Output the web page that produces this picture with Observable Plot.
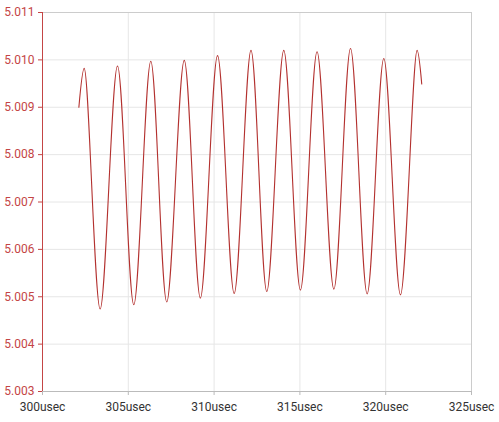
<!DOCTYPE html>
<html>
<head>
<meta charset="utf-8">
<script src="https://cdn.jsdelivr.net/npm/d3@7"></script>
<script src="https://cdn.jsdelivr.net/npm/@observablehq/plot@0.6"></script>
<style>
  html, body { margin: 0; padding: 0; background: #fff; }
  #chart { width: 499px; height: 422px; }
  svg { font-family: Roboto, "Noto Sans", sans-serif; }
</style>
</head>
<body>
<div id="chart"></div>
<script>
// Time (usec) of each read point: start, then alternating peaks and troughs, then end
const timeUsec = [302.12, 302.43, 303.36, 304.37, 305.32, 306.31, 307.24, 308.26, 309.20, 310.20, 311.17,
                  312.15, 313.07, 314.06, 315.03, 316.00, 316.98, 317.95, 318.92, 319.89, 320.86, 321.83, 322.10];
const voltage = [5.00900, 5.00982, 5.00474, 5.00987, 5.00483, 5.00997, 5.00489, 5.00999, 5.00497, 5.01009, 5.00507,
                 5.01020, 5.00511, 5.01020, 5.00514, 5.01017, 5.00516, 5.01024, 5.00506, 5.01003, 5.00504, 5.01020, 5.00949];
const xTicks = [300, 305, 310, 315, 320, 325];
const yTicks = [5.003, 5.004, 5.005, 5.006, 5.007, 5.008, 5.009, 5.010, 5.011];

const data = timeUsec.map((t, i) => ({t, v: voltage[i]}));

const chart = Plot.plot({
  width: 499,
  height: 422,
  marginLeft: 42,
  marginRight: 28,
  marginTop: 12,
  marginBottom: 31,
  style: {fontSize: "12px", fontFamily: "Roboto, 'Noto Sans', sans-serif", background: "#fff"},
  x: {domain: [300, 325], ticks: xTicks, tickFormat: d => d + "usec", label: null},
  y: {domain: [5.003, 5.011], ticks: yTicks, tickFormat: d3.format(".3f"), label: null},
  marks: [
    Plot.gridX(xTicks, {stroke: "#e6e6e6", strokeOpacity: 1}),
    Plot.gridY(yTicks, {stroke: "#e6e6e6", strokeOpacity: 1}),
    Plot.ruleY([5.011], {stroke: "#cccccc"}),
    Plot.ruleX([325], {stroke: "#cccccc"}),
    Plot.axisX({ticks: xTicks, tickFormat: d => d + "usec", tickSize: 4, tickPadding: 7, stroke: "#bbbbbb", fill: "#333333", label: null}),
    Plot.axisY({ticks: yTicks, tickFormat: d3.format(".3f"), tickSize: 4, tickPadding: 4, stroke: "#c44545", fill: "#c44545", label: null}),
    Plot.ruleY([5.003], {stroke: "#bbbbbb"}),
    Plot.ruleX([300], {stroke: "#c44545"}),
    Plot.line(data, {x: "t", y: "v", curve: "catmull-rom", stroke: "#b3312f", strokeWidth: 1.1})
  ]
});
document.getElementById("chart").append(chart);
</script>
</body>
</html>
